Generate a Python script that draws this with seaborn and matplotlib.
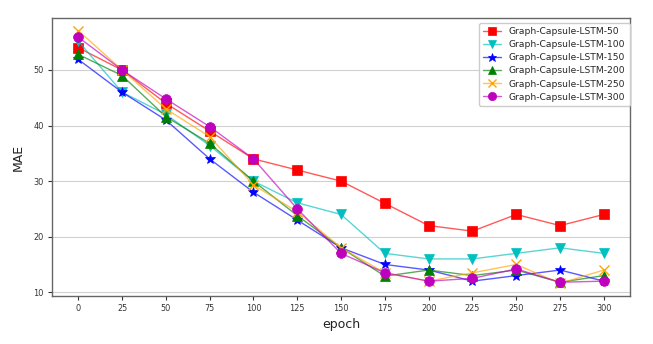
import matplotlib
matplotlib.use("Agg")
import matplotlib.pyplot as plt
import seaborn as sns
import pandas as pd

epochs = [0, 25, 50, 75, 100, 125, 150, 175, 200, 225, 250, 275, 300]

mae_50 = [54, 50, 44, 39, 34, 32, 30, 26, 22, 21, 24, 22, 24]
mae_100 = [55.2, 46, 42, 36.4, 30, 26.1, 24, 17, 16, 16, 17, 18, 17]
mae_150 = [51.9, 46, 41, 34, 28, 23, 18, 15, 14, 12, 13, 14, 12]
mae_200 = [52.8, 49, 41.6, 36.8, 30, 23.8, 18, 12.9, 14, 13, 14, 11.8, 13]
mae_250 = [57.1, 50, 43, 38, 29.3, 24.5, 18, 13.5, 12, 13.5, 15, 11.6, 14]
mae_300 = [55.9, 50, 44.8, 39.8, 34, 25, 17, 13.5, 12, 12.5, 14.2, 11.8, 12]

# cores do matplotlib clássico (r, c, b, g, orange, m)
series = [
    ("Graph-Capsule-LSTM-50", mae_50, (1.0, 0.0, 0.0), "s"),
    ("Graph-Capsule-LSTM-100", mae_100, (0.0, 0.75, 0.75), "v"),
    ("Graph-Capsule-LSTM-150", mae_150, (0.0, 0.0, 1.0), "*"),
    ("Graph-Capsule-LSTM-200", mae_200, (0.0, 0.5, 0.0), "^"),
    ("Graph-Capsule-LSTM-250", mae_250, (1.0, 0.647, 0.0), "x"),
    ("Graph-Capsule-LSTM-300", mae_300, (0.75, 0.0, 0.75), "o"),
]

sns.set_theme(style="whitegrid")
plt.rcParams["font.family"] = ["DejaVu Sans"]

fig = plt.figure(figsize=(6.53, 3.44), dpi=100)
ax = fig.add_axes([0.0796, 0.1395, 0.8854, 0.8085])

for nome, valores, rgb, marcador in series:
    df = pd.DataFrame({"epoch": epochs, "MAE": valores})
    sns.lineplot(
        data=df, x="epoch", y="MAE", ax=ax, label=nome,
        color=(*rgb, 0.65), linewidth=1.0,
        marker=marcador, markersize=7.5 if marcador in ("*", "x") else 7,
        markerfacecolor=rgb, markeredgecolor=rgb,
        markeredgewidth=1.0 if marcador == "x" else 0.5,
    )

ax.set_xticks(epochs)
ax.set_yticks([10, 20, 30, 40, 50])
ax.grid(axis="x", visible=False)
ax.grid(axis="y", color="#d0d0d0", linewidth=0.8)
ax.tick_params(axis="both", labelsize=5.9, colors="#333333", length=3,
               width=0.8, left=True, bottom=True, direction="out", pad=3)
for s in ax.spines.values():
    s.set_color("#666666")
    s.set_linewidth(1.0)
ax.set_xlabel("epoch", fontsize=9, color="#222222", labelpad=3)
ax.set_ylabel("MAE", fontsize=9, color="#222222", labelpad=6)

leg = ax.legend(loc="upper right", bbox_to_anchor=(0.999, 0.982),
                borderaxespad=0, fontsize=6.6, frameon=True,
                framealpha=1.0, edgecolor="#cccccc", fancybox=True,
                handlelength=2.0, handletextpad=0.8, labelspacing=0.45,
                markerscale=0.85, borderpad=0.45)

fig.savefig("out.png", dpi=100)
plt.close(fig)
